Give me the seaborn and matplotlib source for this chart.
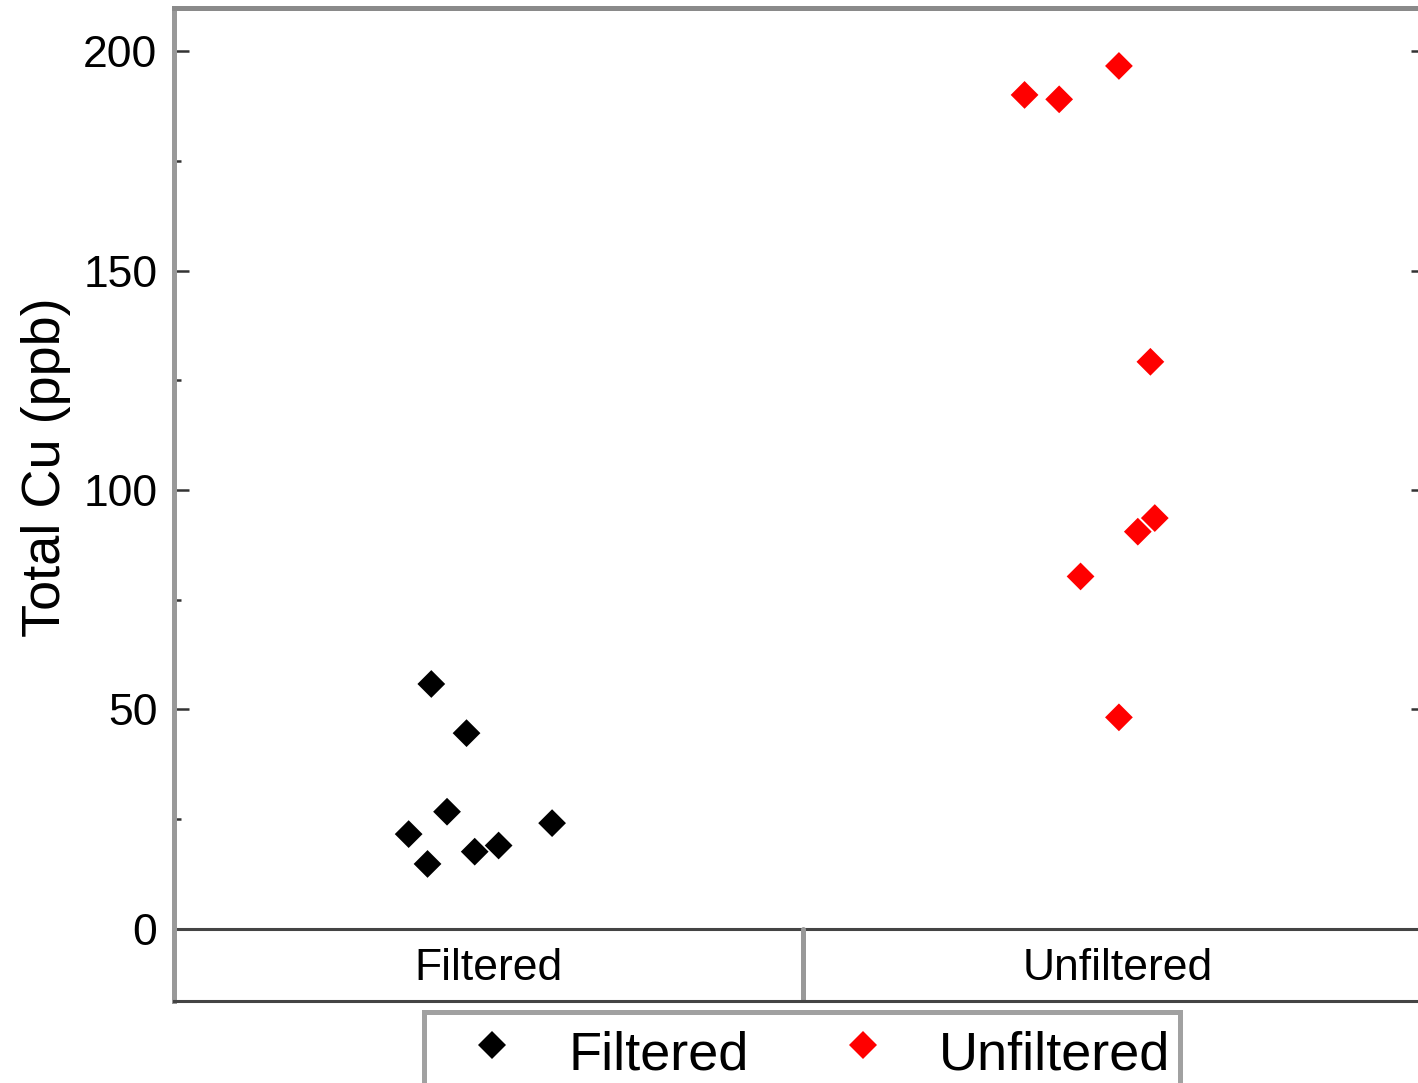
import numpy as np
import pandas as pd
import matplotlib
matplotlib.use("Agg")
import matplotlib.pyplot as plt
from matplotlib.ticker import AutoMinorLocator
import seaborn as sns

# values
groups = ["Filtered", "Unfiltered"]
filtered_cu = [55.8, 44.6, 26.7, 21.6, 14.8, 17.6, 19.0, 24.1]
filtered_jitter = [-0.091, -0.035, -0.066, -0.127, -0.097, -0.022, 0.016, 0.101]
unfiltered_cu = [190.0, 189.0, 196.6, 129.2, 90.5, 93.6, 80.3, 48.2]
unfiltered_jitter = [-0.148, -0.093, 0.002, 0.052, 0.032, 0.059, -0.059, 0.002]
yticks = [0, 50, 100, 150, 200]
colors = {"Filtered": "black", "Unfiltered": "red"}

sns.set_theme(style="ticks")
plt.rcParams["font.family"] = ["Liberation Sans", "DejaVu Sans"]
plt.rcParams["text.color"] = "black"
plt.rcParams["axes.labelcolor"] = "black"

df = pd.DataFrame({
    "group": ["Filtered"] * len(filtered_cu) + ["Unfiltered"] * len(unfiltered_cu),
    "cu": filtered_cu + unfiltered_cu,
    "jitter": filtered_jitter + unfiltered_jitter,
})
df["pos"] = df["group"].map({g: i for i, g in enumerate(groups)}) + df["jitter"]

fig = plt.figure(figsize=(14.18, 10.83), dpi=100)
ax = fig.add_axes([0.1227, 0.0754, 0.8829, 0.9172])

sns.scatterplot(data=df, x="pos", y="cu", hue="group", hue_order=groups,
                palette=colors, marker="D", s=200, linewidth=0, ax=ax, zorder=3)

ymin, ymax = -16.5, 209.8
ax.set_xlim(-0.5, 1.49)
ax.set_ylim(ymin, ymax)

# category strip below zero
ax.axhline(0, color="#444444", lw=2.2, zorder=2)
ax.axvline(0.5, ymin=0, ymax=(0 - ymin) / (ymax - ymin), color="#999999", lw=3.6)
for i, g in enumerate(groups):
    ax.text(i, -9.0, g, ha="center", va="center", fontsize=32)

ax.set_xticks([])
ax.set_xlabel("")
ax.set_yticks(yticks)
ax.yaxis.set_minor_locator(AutoMinorLocator(2))
ax.tick_params(axis="y", which="major", direction="in", length=11, width=1.8,
               color="#333333", labelcolor="black", right=True, labelsize=32, pad=12)
ax.tick_params(axis="y", which="minor", direction="in", length=5, width=1.8,
               color="#333333", right=True)
ax.set_ylabel("Total Cu (ppb)", fontsize=39)
ax.yaxis.set_label_coords(-0.0823, 0.538)

ax.spines["left"].set_color("#999999")
ax.spines["left"].set_linewidth(3.6)
ax.spines["top"].set_color("#8a8a8a")
ax.spines["top"].set_linewidth(3.6)
ax.spines["right"].set_color("#8a8a8a")
ax.spines["right"].set_linewidth(3.6)
ax.spines["bottom"].set_color("#444444")
ax.spines["bottom"].set_linewidth(2.2)

# legend box runs off the bottom edge, as in the reference
sns.move_legend(ax, "upper left", bbox_to_anchor=(424 / 1418, 1 - 1012 / 1083),
                bbox_transform=fig.transFigure, ncol=2, title=None, frameon=True,
                fancybox=False, fontsize=39, handlelength=2.18, handletextpad=0.31,
                handleheight=1.35, columnspacing=1.03, borderpad=0.17, borderaxespad=0)
leg = ax.get_legend()
leg.get_frame().set_edgecolor("#8a8a8a")
leg.get_frame().set_linewidth(3.6)
for h in leg.legend_handles:
    h.set_markersize(14.2)

fig.savefig("out.png", dpi=100)
